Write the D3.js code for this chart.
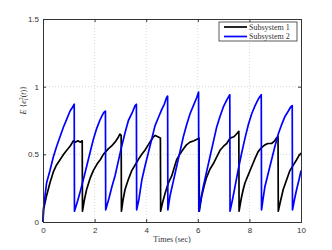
<!DOCTYPE html>
<html>
<head>
<meta charset="utf-8">
<script src="https://cdn.jsdelivr.net/npm/d3@7"></script>
<style>
	body { margin: 0; background: #fff; }
	svg { display: block; }
	.tick-label { font-family: "Liberation Sans", Arial, sans-serif; font-size: 8px; fill: #333; }
	.serif { font-family: "Liberation Serif", "Times New Roman", serif; font-size: 8px; fill: #333; }
</style>
</head>
<body>
<svg id="chart" width="332" height="250"></svg>
<script>
// values: [time, E{e^2}]
const subsystem1 = [
	[0, 0], [0.02, 0.09], [0.12, 0.18], [0.27, 0.29], [0.4, 0.37], [0.52, 0.42], [0.66, 0.46],
	[0.8, 0.5], [0.92, 0.53], [1.05, 0.56], [1.18, 0.6], [1.25, 0.59], [1.35, 0.6], [1.45, 0.59], [1.52, 0.6],
	[1.53, 0.08], [1.6, 0.16], [1.69, 0.24], [1.82, 0.32], [1.95, 0.38], [2.1, 0.43], [2.22, 0.46], [2.34, 0.5],
	[2.53, 0.54], [2.65, 0.56], [2.79, 0.59], [2.9, 0.62], [2.98, 0.65], [3.03, 0.64],
	[3.04, 0.08], [3.1, 0.16], [3.18, 0.24], [3.3, 0.31], [3.44, 0.38], [3.6, 0.43], [3.72, 0.47], [3.83, 0.5],
	[3.95, 0.53], [4.08, 0.57], [4.18, 0.6], [4.28, 0.63], [4.35, 0.64], [4.45, 0.63], [4.55, 0.62],
	[4.56, 0.08], [4.63, 0.14], [4.73, 0.21], [4.86, 0.29], [4.99, 0.34], [5.1, 0.41], [5.18, 0.46], [5.3, 0.5],
	[5.44, 0.54], [5.56, 0.57], [5.7, 0.59], [5.85, 0.6], [5.95, 0.61], [6.05, 0.62],
	[6.06, 0.08], [6.1, 0.13], [6.15, 0.19], [6.25, 0.27], [6.34, 0.33], [6.47, 0.39], [6.6, 0.43], [6.73, 0.48],
	[6.86, 0.53], [7.0, 0.56], [7.12, 0.58], [7.25, 0.62], [7.4, 0.63], [7.5, 0.65], [7.59, 0.67],
	[7.6, 0.08], [7.68, 0.17], [7.76, 0.24], [7.83, 0.29], [7.96, 0.35], [8.09, 0.41], [8.22, 0.47], [8.34, 0.52],
	[8.47, 0.55], [8.6, 0.57], [8.72, 0.58], [8.86, 0.58], [8.98, 0.6], [9.05, 0.62], [9.11, 0.63],
	[9.12, 0.08], [9.2, 0.15], [9.31, 0.24], [9.44, 0.31], [9.57, 0.38], [9.7, 0.42], [9.83, 0.46], [9.92, 0.49], [10, 0.51]
];

const subsystem2 = [
	[0, 0], [0.02, 0.1], [0.14, 0.29], [0.27, 0.38], [0.4, 0.48], [0.53, 0.56], [0.66, 0.63], [0.79, 0.7],
	[0.92, 0.76], [1.05, 0.82], [1.15, 0.85], [1.21, 0.87],
	[1.22, 0.08], [1.35, 0.16], [1.45, 0.23], [1.56, 0.31], [1.69, 0.41], [1.82, 0.51], [1.95, 0.61], [2.08, 0.69],
	[2.2, 0.75], [2.3, 0.79], [2.36, 0.81], [2.42, 0.82],
	[2.43, 0.09], [2.55, 0.17], [2.67, 0.26], [2.79, 0.34], [2.92, 0.45], [3.05, 0.56], [3.18, 0.66], [3.31, 0.75],
	[3.44, 0.8], [3.57, 0.86], [3.62, 0.87],
	[3.63, 0.09], [3.72, 0.17], [3.83, 0.31], [3.95, 0.41], [4.08, 0.51], [4.21, 0.61], [4.34, 0.71], [4.47, 0.77],
	[4.6, 0.83], [4.7, 0.87], [4.79, 0.92], [4.83, 0.93],
	[4.84, 0.09], [4.92, 0.19], [5.05, 0.3], [5.18, 0.41], [5.31, 0.52], [5.44, 0.63], [5.57, 0.72], [5.7, 0.8],
	[5.83, 0.86], [5.96, 0.92], [6.03, 0.96],
	[6.04, 0.08], [6.12, 0.17], [6.21, 0.26], [6.34, 0.37], [6.47, 0.48], [6.6, 0.59], [6.73, 0.7], [6.86, 0.78],
	[6.99, 0.85], [7.12, 0.9], [7.24, 0.94],
	[7.25, 0.08], [7.35, 0.17], [7.44, 0.26], [7.57, 0.39], [7.7, 0.51], [7.83, 0.62], [7.96, 0.72], [8.09, 0.8],
	[8.22, 0.86], [8.35, 0.91], [8.46, 0.94],
	[8.47, 0.09], [8.53, 0.17], [8.6, 0.26], [8.73, 0.36], [8.86, 0.46], [8.99, 0.56], [9.12, 0.65], [9.25, 0.72],
	[9.38, 0.78], [9.51, 0.82], [9.6, 0.85], [9.66, 0.86],
	[9.67, 0.09], [9.75, 0.17], [9.83, 0.24], [9.92, 0.31], [10, 0.38]
];

const seriesNames = ['Subsystem 1', 'Subsystem 2'];
const seriesColors = ['#000000', '#0000ff'];
const xTicks = [0, 2, 4, 6, 8, 10];
const yTicks = [0, 0.5, 1, 1.5];

const margin = { left: 43, right: 31, top: 19, bottom: 28 };
const width = 332 - margin.left - margin.right;
const height = 250 - margin.top - margin.bottom;

const svg = d3.select('#chart');
const g = svg.append('g')
	.attr('transform', 'translate(' + margin.left + ',' + margin.top + ')');

const x = d3.scaleLinear().domain([0, 10]).range([0, width]);
const y = d3.scaleLinear().domain([0, 1.5]).range([height, 0]);

// grid
g.selectAll('.vgrid')
	.data(xTicks.slice(1, -1))
	.enter().append('line')
	.attr('x1', d => x(d)).attr('x2', d => x(d))
	.attr('y1', 0).attr('y2', height)
	.attr('stroke', '#bbb').attr('stroke-width', 0.6)
	.attr('stroke-dasharray', '1,2');

g.selectAll('.hgrid')
	.data(yTicks.slice(1, -1))
	.enter().append('line')
	.attr('x1', 0).attr('x2', width)
	.attr('y1', d => y(d)).attr('y2', d => y(d))
	.attr('stroke', '#bbb').attr('stroke-width', 0.6)
	.attr('stroke-dasharray', '1,2');

// lines
const line = d3.line()
	.x(d => x(d[0]))
	.y(d => y(d[1]));

[subsystem1, subsystem2].forEach(function(data, i) {
	g.append('path')
		.datum(data)
		.attr('d', line)
		.attr('fill', 'none')
		.attr('stroke', seriesColors[i])
		.attr('stroke-width', 1.7)
		.attr('stroke-linejoin', 'round');
});

// axes, ticks pointing inward
const xAxisBottom = d3.axisBottom(x).tickValues(xTicks).tickSize(-3).tickPadding(5).tickFormat(d3.format('d'));
const yAxisLeft = d3.axisLeft(y).tickValues(yTicks).tickSize(-3).tickPadding(4).tickFormat(d => d);

g.append('g')
	.attr('transform', 'translate(0,' + height + ')')
	.call(xAxisBottom)
	.call(a => a.selectAll('text').attr('class', 'tick-label').attr('font-family', null).attr('font-size', null));

g.append('g')
	.call(yAxisLeft)
	.call(a => a.selectAll('text').attr('class', 'tick-label').attr('font-family', null).attr('font-size', null));

g.append('g')
	.call(d3.axisTop(x).tickValues(xTicks).tickSize(-3).tickFormat(''));

g.append('g')
	.attr('transform', 'translate(' + width + ',0)')
	.call(d3.axisRight(y).tickValues(yTicks).tickSize(-3).tickFormat(''));

g.selectAll('.domain').attr('stroke', '#333');
g.selectAll('.tick line').attr('stroke', '#333');

// axis labels
svg.append('text')
	.attr('class', 'serif')
	.attr('x', margin.left + width / 2)
	.attr('y', 242)
	.attr('text-anchor', 'middle')
	.text('Times (sec)');

const yLabel = svg.append('text')
	.attr('class', 'serif')
	.attr('font-size', '9px')
	.attr('transform', 'translate(26,' + (margin.top + y(0.9)) + ') rotate(-90)')
	.attr('text-anchor', 'middle');
yLabel.append('tspan').attr('font-style', 'italic').text('E');
yLabel.append('tspan').text(' {');
yLabel.append('tspan').attr('font-style', 'italic').text('e');
yLabel.append('tspan').attr('font-style', 'italic').attr('font-size', '5.5px').attr('dy', 1.5).text('i');
yLabel.append('tspan').attr('font-size', '5.5px').attr('dx', -1.5).attr('dy', -5).text('2');
yLabel.append('tspan').attr('dy', 3.5).text('(');
yLabel.append('tspan').attr('font-style', 'italic').text('t');
yLabel.append('tspan').text(')}');

// legend
const legend = svg.append('g').attr('transform', 'translate(219,22)');
legend.append('rect')
	.attr('width', 78).attr('height', 19)
	.attr('fill', '#fff').attr('stroke', '#333').attr('stroke-width', 0.8);

seriesNames.forEach(function(name, i) {
	let ly = 5 + i * 9.5;
	legend.append('line')
		.attr('x1', 5).attr('x2', 28)
		.attr('y1', ly).attr('y2', ly)
		.attr('stroke', seriesColors[i]).attr('stroke-width', 1.7);
	legend.append('text')
		.attr('class', 'serif')
		.attr('x', 30).attr('y', ly + 2.7)
		.text(name);
});
</script>
</body>
</html>
